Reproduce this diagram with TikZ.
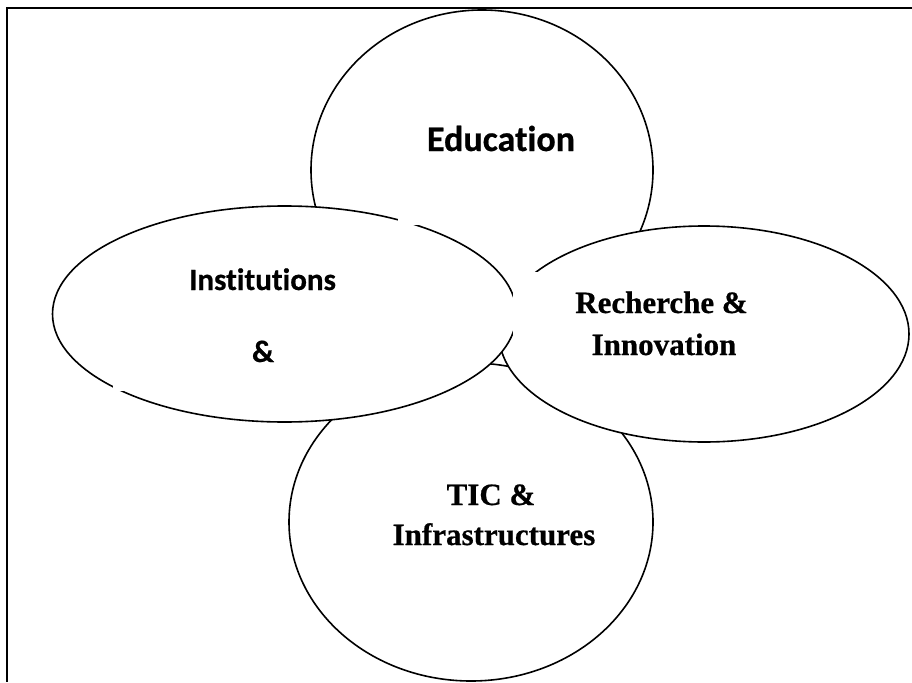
\documentclass[tikz,border=0pt]{standalone}
\usepackage{fontspec}
\setmainfont{Liberation Serif}
\newfontfamily\serbold{Liberation Serif Bold}[FakeBold=0.6]
\newfontfamily\calbold{Carlito Bold}[Ligatures={NoCommon,NoRequired,NoContextual},FakeBold=0.6]
\begin{document}
\begin{tikzpicture}[x=1pt,y=-1pt,
  bubble/.style={draw=black,fill=white,line width=1.6pt},
  mask/.style={fill=white,draw=none},
  serlabel/.style={anchor=base,inner sep=0pt,font=\serbold\fontsize{31}{31}\selectfont},
  callabel/.style={anchor=base,inner sep=0pt,font=\calbold\fontsize{31}{31}\selectfont}]
\useasboundingbox (0,0) rectangle (912,682);
% frame
\draw[line width=2pt] (912,8) -- (7,8) -- (7,682);
% circles / ellipses
\draw[bubble] (482,170) ellipse [x radius=171, y radius=160];
\draw[bubble] (471,522) ellipse [x radius=182, y radius=159];
\draw[bubble] (704,334) ellipse [x radius=205, y radius=108];
\draw[bubble] (284.5,314) ellipse [x radius=232, y radius=108];
% text-box masks
\fill[mask] (513,272) rectangle (600,352);
\fill[mask] (398,190) rectangle (470,225);
\fill[mask] (113,360) rectangle (250,391);
% labels
\node[callabel,font=\calbold\fontsize{36}{36}\selectfont] (edu) at (501,151) {Education};
\node[callabel] (inst) at (262.5,290) {Institutions};
\node[callabel] (amp) at (263,362) {\&};
\node[serlabel] (rech) at (661.5,313) {Recherche \&};
\node[serlabel] (innov) at (664,355) {Innovation};
\node[serlabel] (tic) at (491,505) {TIC \&};
\node[serlabel] (infra) at (494,545) {Infrastructures};
\end{tikzpicture}
\end{document}
